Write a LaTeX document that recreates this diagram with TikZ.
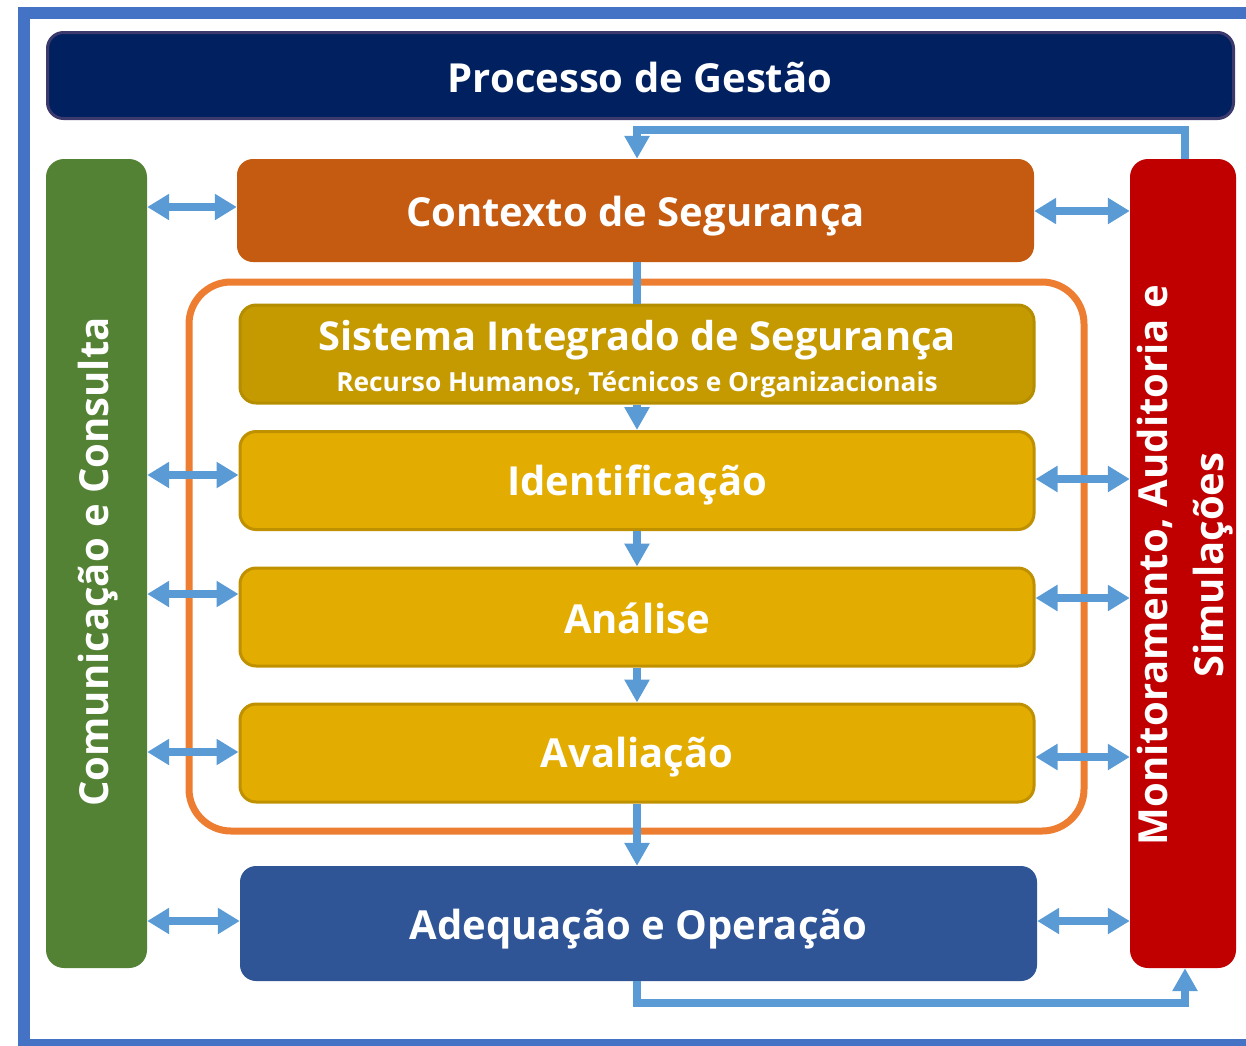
\documentclass[tikz,border=0pt]{standalone}
\usepackage{fontspec}
\setmainfont{Open Sans}
\usetikzlibrary{arrows.meta,calc}
\definecolor{frameblue}{HTML}{4472C4}
\definecolor{navy}{HTML}{002060}
\definecolor{navyedge}{HTML}{3C3A6C}
\definecolor{leafgreen}{HTML}{548235}
\definecolor{rust}{HTML}{C55A11}
\definecolor{crimson}{HTML}{C00000}
\definecolor{orangeframe}{HTML}{ED7D31}
\definecolor{darkgold}{HTML}{C59A00}
\definecolor{gold}{HTML}{E2AC00}
\definecolor{goldedge}{HTML}{BF9000}
\definecolor{royal}{HTML}{2F5597}
\definecolor{arrowblue}{HTML}{5B9BD5}
\newcommand{\bigfont}{\bfseries\fontsize{40}{50}\selectfont}
\tikzset{
  box/.style={rectangle, rounded corners=16pt, text=white, font=\bigfont, inner sep=0pt, align=center},
  goldbox/.style={box, fill=gold, draw=goldedge, line width=3pt, minimum width=794pt, minimum height=98pt},
  dbl/.style={arrowblue, line width=8pt, {Triangle[width=25pt,length=22pt]}-{Triangle[width=25pt,length=22pt]}},
  one/.style={arrowblue, line width=8pt, -{Triangle[width=24pt,length=23pt]}},
  plainline/.style={arrowblue, line width=8pt},
}
\begin{document}
\begin{tikzpicture}[x=1pt,y=-1pt]
\useasboundingbox (0,0) rectangle (1246,1045);
\begin{scope}
\clip (0,0) rectangle (1246,1045);
\draw[frameblue, line width=12pt] (24,13) rectangle (1260,1045);
\end{scope}

\node[box, fill=navy, draw=navyedge, line width=3pt, minimum width=1186pt, minimum height=86pt] (title) at (640.5,75.5) {};
\node[text=white, font=\bigfont, inner sep=0pt] (titletext) at (640,77) {Processo de Gestão};

\node[box, fill=leafgreen, rounded corners=18pt, minimum width=101pt, minimum height=809pt] (green) at (96.5,563.5) {};
\node[rotate=90, text=white, font=\bigfont, inner sep=0pt] (greentext) at (98,562) {Comunicação e Consulta};

\node[box, fill=crimson, rounded corners=18pt, minimum width=106pt, minimum height=809pt] (red) at (1183,563.5) {};
\node[rotate=90, text=white, align=center, font=\bfseries\fontsize{40}{56}\selectfont, inner sep=0pt] (redtext) at (1185,565) {Monitoramento, Auditoria e\\Simulações};

\node[box, fill=rust, minimum width=797pt, minimum height=103pt] (ctx) at (635.5,210.5) {};
\node[text=white, font=\bigfont, inner sep=0pt] (ctxtext) at (635.5,216) {Contexto de Segurança};

\draw[orangeframe, line width=7pt, rounded corners=42pt] (189,282) rectangle (1084,831);

\node[goldbox, fill=darkgold, draw=darkgold!92!black] (sis) at (637,354) {};
\node[text=white, font=\bfseries\fontsize{39.8}{50}\selectfont, inner sep=0pt] (sistitle) at (637,340) {Sistema Integrado de Segurança};
\node[text=white, font=\bfseries\fontsize{26.3}{32}\selectfont, inner sep=0pt] (sissub) at (637,385) {Recurso Humanos, Técnicos e Organizacionais};

\node[goldbox] (ident) at (637,480.5) {};
\node[text=white, font=\bigfont, inner sep=0pt] (identtext) at (637,485) {Identificação};
\node[goldbox] (anal) at (637,617) {};
\node[text=white, font=\bigfont, inner sep=0pt] (analtext) at (637,618) {Análise};
\node[goldbox] (aval) at (637,753) {};
\node[text=white, font=\bigfont, inner sep=0pt] (avaltext) at (637,757) {Avaliação};

\node[box, fill=royal, minimum width=797pt, minimum height=115pt] (adeq) at (638.5,923.5) {};
\node[text=white, font=\bigfont, inner sep=0pt] (adeqtext) at (638.5,929) {Adequação e Operação};

% vertical flow
\draw[plainline] (ctx.south -| sis.north) -- (sis.north);
\draw[one] (sis.south) -- (ident.north);
\draw[one] (ident.south) -- (anal.north);
\draw[one] (anal.south) -- (aval.north);
\draw[one] (aval.south) -- (aval.south |- adeq.north);

% feedback loops
\coordinate (t1) at (1185,130);
\coordinate (t2) at (637,130);
\draw[one] (red.north -| t1) -- (t1) -- (t2) -- (t2 |- ctx.north);
\coordinate (b1) at (637,1003);
\coordinate (b2) at (1185,1003);
\draw[one] (adeq.south -| b1) -- (b1) -- (b2) -- (b2 |- red.south);

% left double arrows
\coordinate (l1) at (0,207);
\coordinate (l2) at (0,475);
\coordinate (l3) at (0,594);
\coordinate (l4) at (0,752);
\coordinate (l5) at (0,921);
\draw[dbl] (green.east |- l1) -- (ctx.west |- l1);
\draw[dbl] (green.east |- l2) -- (ident.west |- l2);
\draw[dbl] (green.east |- l3) -- (anal.west |- l3);
\draw[dbl] (green.east |- l4) -- (aval.west |- l4);
\draw[dbl] (green.east |- l5) -- (adeq.west |- l5);

% right double arrows
\coordinate (r1) at (0,211);
\coordinate (r2) at (0,479);
\coordinate (r3) at (0,598);
\coordinate (r4) at (0,757);
\coordinate (r5) at (0,921);
\draw[dbl] (ctx.east |- r1) -- (red.west |- r1);
\draw[dbl] (ident.east |- r2) -- (red.west |- r2);
\draw[dbl] (anal.east |- r3) -- (red.west |- r3);
\draw[dbl] (aval.east |- r4) -- (red.west |- r4);
\draw[dbl] (adeq.east |- r5) -- (red.west |- r5);
\end{tikzpicture}
\end{document}
